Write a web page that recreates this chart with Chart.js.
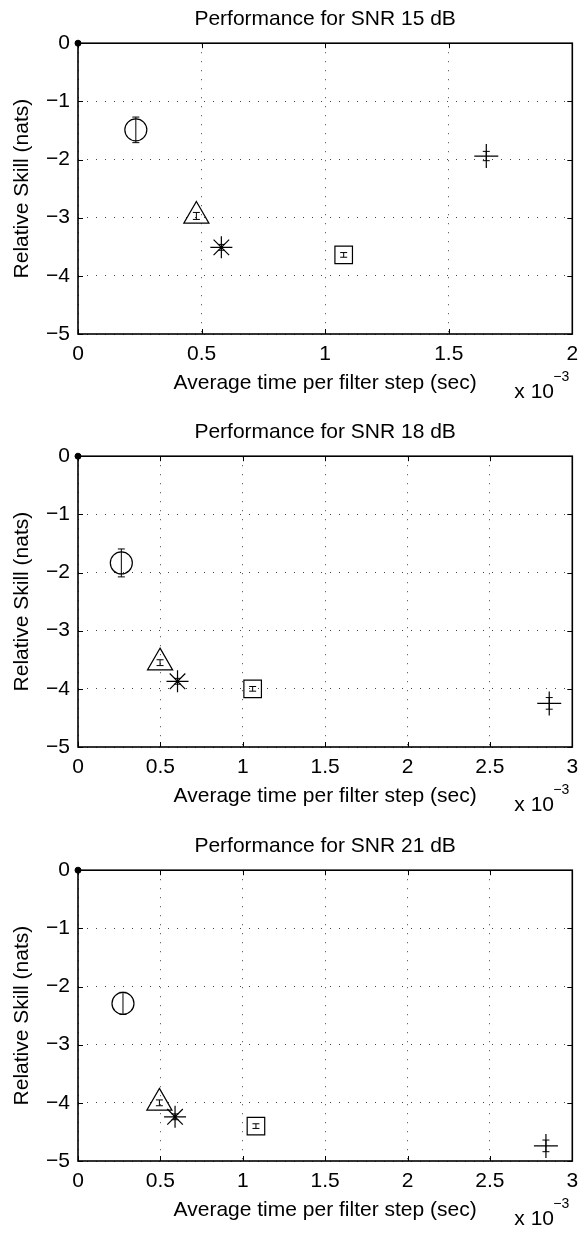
<!DOCTYPE html>
<html>
<head>
<meta charset="utf-8">
<script src="https://cdn.jsdelivr.net/npm/chart.js@4.4.1/dist/chart.umd.min.js"></script>
<style>
  html, body { margin: 0; padding: 0; background: #fff; }
  #page { position: relative; width: 588px; height: 1236px; }
  canvas { position: absolute; left: 0; }
</style>
</head>
<body>
<div id="page">
  <canvas id="snr15" width="588" height="409" style="top:0px"></canvas>
  <canvas id="snr18" width="588" height="409" style="top:413px"></canvas>
  <canvas id="snr21" width="588" height="409" style="top:827px"></canvas>
</div>
<script>
// SNR of each panel and the end of its time axis (x 10^-3 sec)
const snrLevels = [15, 18, 21];
const xMax = [2, 3, 3];
const yTicks = [0, -1, -2, -3, -4, -5];

// one point per filter, same order in every panel
const markers = ["circle", "triangle", "star", "rect", "cross"];

const time15 = [0.234, 0.479, 0.58, 1.075, 1.652];
const skill15 = [-1.49, -2.97, -3.51, -3.64, -1.94];
const err15 = [0.22, 0.06, 0.05, 0.04, 0.08];

const time18 = [0.263, 0.498, 0.604, 1.06, 2.86];
const skill18 = [-1.835, -3.55, -3.87, -4.0, -4.25];
const err18 = [0.24, 0.05, 0.05, 0.04, 0.1];

const time21 = [0.273, 0.494, 0.589, 1.08, 2.84];
const skill21 = [-2.29, -4.0, -4.24, -4.4, -4.74];
const err21 = [0.19, 0.05, 0.05, 0.04, 0.1];

const times = [time15, time18, time21];
const skills = [skill15, skill18, skill21];
const errs = [err15, err18, err21];

// marker sizes (Chart.js radius) for each point style
const markerRadius = { circle: 11, triangle: 14.5, star: 11, rect: 12.4, cross: 12 };

Chart.defaults.font.family = "'Liberation Sans', Arial, sans-serif";
Chart.defaults.font.size = 21;
Chart.defaults.color = "#000";

const minus = (v) => (v < 0 ? "\u2212" + (-v) : String(v));

// vertical error bars drawn through the chart scales
const errorBars = {
  id: "errorBars",
  afterDatasetsDraw(chart) {
    const { ctx, scales: { x, y } } = chart;
    ctx.save();
    ctx.strokeStyle = "#000";
    ctx.lineWidth = 1;
    chart.data.datasets.forEach((ds) => {
      if (!ds.errors) return;
      ds.data.forEach((p, i) => {
        const px = x.getPixelForValue(p.x);
        const top = y.getPixelForValue(p.y + ds.errors[i]);
        const bot = y.getPixelForValue(p.y - ds.errors[i]);
        ctx.beginPath();
        ctx.moveTo(px, top);
        ctx.lineTo(px, bot);
        ctx.moveTo(px - 3.5, top);
        ctx.lineTo(px + 3.5, top);
        ctx.moveTo(px - 3.5, bot);
        ctx.lineTo(px + 3.5, bot);
        ctx.stroke();
      });
    });
    ctx.restore();
  },
};

// box around the axes, inward ticks and the x 10^-3 multiplier
const frame = {
  id: "frame",
  afterDraw(chart) {
    const { ctx, chartArea: a, scales: { x, y } } = chart;
    ctx.save();
    ctx.strokeStyle = "#000";
    ctx.lineWidth = 1;
    ctx.beginPath();
    x.ticks.forEach((t) => {
      const px = Math.round(x.getPixelForValue(t.value)) + 0.5;
      ctx.moveTo(px, a.bottom);
      ctx.lineTo(px, a.bottom - 5);
      ctx.moveTo(px, a.top);
      ctx.lineTo(px, a.top + 5);
    });
    y.ticks.forEach((t) => {
      const py = Math.round(y.getPixelForValue(t.value)) + 0.5;
      ctx.moveTo(a.left, py);
      ctx.lineTo(a.left + 5, py);
      ctx.moveTo(a.right, py);
      ctx.lineTo(a.right - 5, py);
    });
    ctx.stroke();
    ctx.lineWidth = 1.6;
    ctx.strokeRect(a.left, a.top, a.right - a.left, a.bottom - a.top);

    ctx.fillStyle = "#000";
    ctx.textBaseline = "alphabetic";
    ctx.font = "21px 'Liberation Sans', Arial, sans-serif";
    ctx.fillText("x 10", a.right - 58, a.bottom + 64);
    ctx.font = "14px 'Liberation Sans', Arial, sans-serif";
    ctx.fillText("\u22123", a.right - 19, a.bottom + 47);
    ctx.restore();
  },
};

snrLevels.forEach((snr, k) => {
  const points = times[k].map((t, i) => ({ x: t, y: skills[k][i] }));
  new Chart(document.getElementById("snr" + snr), {
    type: "scatter",
    plugins: [errorBars, frame],
    data: {
      datasets: [
        {
          data: points,
          errors: errs[k],
          pointStyle: markers,
          pointRadius: markers.map((m) => markerRadius[m]),
          pointHoverRadius: markers.map((m) => markerRadius[m]),
          borderColor: "#000",
          backgroundColor: "rgba(0,0,0,0)",
          pointBorderWidth: 1.2,
          clip: false,
        },
        {
          // reference point at the origin
          data: [{ x: 0, y: 0 }],
          pointStyle: "circle",
          pointRadius: 3,
          borderColor: "#000",
          backgroundColor: "#000",
          clip: false,
        },
      ],
    },
    options: {
      responsive: false,
      animation: false,
      events: [],
      layout: { padding: { top: 0, right: 12, left: 0, bottom: 0 } },
      plugins: {
        legend: { display: false },
        tooltip: { enabled: false },
        title: {
          display: true,
          fullSize: false,
          text: "Performance for SNR " + snr + " dB",
          font: { size: 21, weight: "normal" },
          padding: { top: 7, bottom: 11 },
          color: "#000",
        },
      },
      scales: {
        x: {
          type: "linear",
          min: 0,
          max: xMax[k],
          afterFit: (s) => { s.height = 75; },
          ticks: { stepSize: 0.5, padding: 8, callback: (v) => String(v), maxRotation: 0 },
          grid: { color: "#444", lineWidth: 1, drawTicks: false, borderDash: [1, 8] },
          border: { display: false, dash: [1, 8] },
          title: {
            display: true,
            text: "Average time per filter step (sec)",
            padding: { top: 0, bottom: 13 },
          },
        },
        y: {
          type: "linear",
          min: yTicks[yTicks.length - 1],
          max: yTicks[0],
          afterFit: (s) => { s.width = 78; },
          afterBuildTicks: (s) => { s.ticks = yTicks.map((v) => ({ value: v })); },
          ticks: { padding: 8, callback: (v) => minus(v) },
          grid: { color: "#444", lineWidth: 1, drawTicks: false, borderDash: [1, 8] },
          border: { display: false, dash: [1, 8] },
          title: {
            display: true,
            text: "Relative Skill (nats)",
            padding: { top: 10, bottom: 0 },
          },
        },
      },
    },
  });
});
</script>
</body>
</html>
